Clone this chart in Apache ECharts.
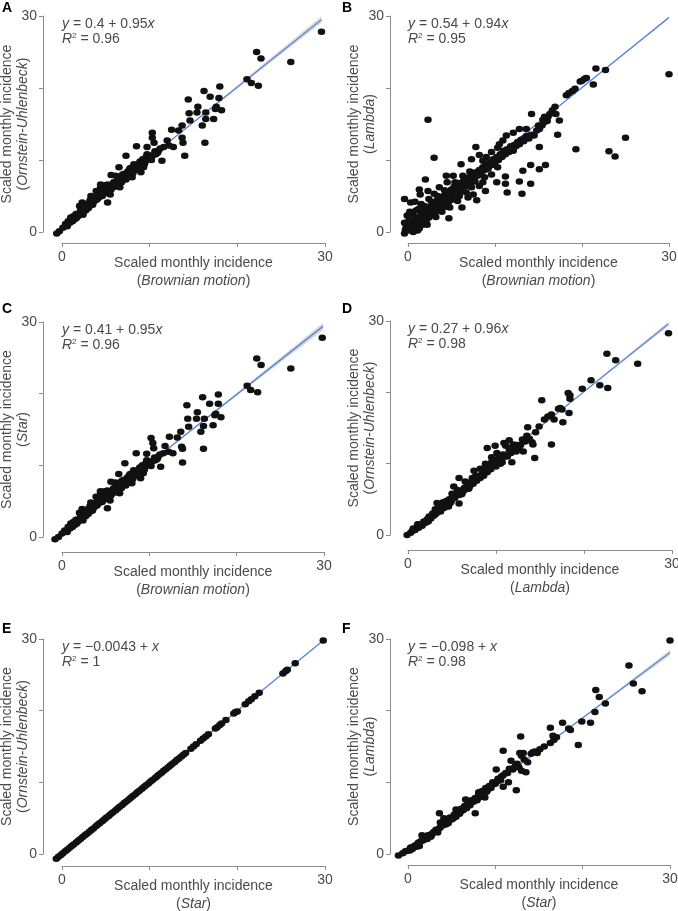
<!DOCTYPE html>
<html>
<head>
<meta charset="utf-8">
<script src="https://cdn.jsdelivr.net/npm/echarts@6/dist/echarts.min.js"></script>
<style>
  html, body { margin: 0; padding: 0; background: #fff; }
  #chart { width: 678px; height: 911px; }
</style>
</head>
<body>
<div id="chart"></div>
<script>
const tickValues = [0, 10, 20, 30];
const labeledTicks = [0, 30];
const panelLetters = ['A', 'B', 'C', 'D', 'E', 'F'];
const xModels = ['Brownian motion', 'Brownian motion', 'Brownian motion', 'Lambda', 'Star', 'Star'];
const yModels = ['Ornstein-Uhlenbeck', 'Lambda', 'Star', 'Ornstein-Uhlenbeck', 'Ornstein-Uhlenbeck', 'Lambda'];
const intercepts = ['0.4', '0.54', '0.41', '0.27', '\u22120.0043', '\u22120.098'];
const slopes = ['0.95', '0.94', '0.95', '0.96', '', ''];
const rSquared = ['0.96', '0.95', '0.96', '0.98', '1', '0.98'];

const pointsA = [
  [-0.6,-0.2],[-0.3,0.1],[0.1,0.6],[0.4,1.1],[0.6,0.8],[0.7,1.5],[0.9,1.3],[1.0,2.0],[1.2,1.5],[1.3,2.2],[1.5,1.8],[1.6,2.5],[1.8,2.2],[1.9,2.4],[2.0,3.6],[2.1,2.9],[2.2,2.7],[2.3,4.1],[2.4,2.4],[2.5,3.2],[2.6,3.5],[2.7,3.0],[2.9,3.9],[3.0,3.3],[3.1,3.6],[3.2,4.4],[3.3,5.0],[3.4,4.0],[3.5,3.8],[3.6,4.7],[3.7,4.3],[3.9,5.7],[4.0,4.5],[4.1,5.3],[4.2,4.8],[4.3,5.2],[4.4,6.6],[4.4,6.2],[4.6,5.0],[4.7,5.9],[4.8,5.5],[4.9,6.5],[5.0,6.0],[5.0,5.4],[5.2,6.6],[5.2,4.1],[5.3,6.0],[5.4,6.3],[5.5,5.2],[5.6,5.9],[5.6,7.9],[5.7,6.5],[5.9,6.9],[6.0,6.3],[6.1,7.8],[6.2,6.6],[6.3,7.0],[6.5,9.0],[6.5,7.2],[6.6,6.2],[6.7,7.4],[6.8,6.9],[6.9,8.0],[7.0,7.5],[7.1,8.1],[7.3,7.3],[7.3,10.6],[7.5,8.4],[7.6,8.0],[7.7,8.7],[7.9,8.3],[8.0,7.6],[8.0,8.8],[8.2,9.4],[8.3,8.6],[8.5,11.9],[8.5,9.3],[8.6,9.0],[8.8,9.5],[8.9,9.8],[9.0,8.3],[9.2,10.1],[9.3,9.0],[9.4,9.4],[9.6,10.4],[9.7,11.8],[9.7,10.8],[9.9,10.2],[10.0,10.5],[10.2,10.0],[10.3,13.8],[10.3,13.1],[10.4,10.7],[10.5,12.4],[10.6,11.2],[10.9,11.0],[11.0,11.3],[11.4,9.9],[11.6,11.8],[12.0,12.7],[12.2,12.0],[12.5,14.2],[12.7,11.8],[13.3,14.1],[13.7,14.8],[13.7,13.1],[13.8,12.4],[14.0,10.6],[14.4,18.4],[14.5,16.5],[14.6,15.5],[15.4,16.6],[15.5,17.4],[16.0,14.8],[16.2,19.6],[16.3,12.4],[16.4,16.6],[16.4,15.7],[16.9,18.8],[17.3,15.7],[17.5,17.1],[17.6,17.4],[17.9,18.6],[18.0,20.2],[18.2,16.9],[21.1,21.2],[21.6,20.7],[22.2,25.0],[22.4,20.3],[22.7,24.1],[26.1,23.6],[29.6,27.8],
  [1.1,1.7],[1.4,2.0],[1.7,2.0],[2.0,2.5],[2.3,2.9],[2.8,3.4],[3.0,4.0],[3.3,3.7],[3.6,4.2],[3.8,4.6],[4.0,5.0],[4.5,5.4],[4.6,5.6],[5.1,5.7],[5.3,5.5],[5.8,6.2],[6.0,6.8],[6.4,6.8],[6.6,7.7],[7.2,7.8],[7.4,7.7],[7.8,8.9],[8.1,8.2],[8.4,9.0],[8.7,9.2],[9.1,9.6],[9.5,9.8],[9.8,10.6],[10.1,10.4],[10.7,10.8],[11.2,11.6]
];
const pointsB = [
  [-0.4,-0.2],[-0.3,0.3],[-0.2,0.8],[-0.4,1.3],[0.0,0.2],[0.2,0.6],[0.3,1.1],[0.1,1.6],[0.5,0.4],[0.6,1.0],[0.8,1.5],[1.0,0.6],[1.0,2.0],[1.2,1.2],[1.4,1.8],[1.5,2.5],[1.7,1.0],[1.8,2.2],[2.0,2.8],[2.1,1.6],[2.3,3.0],[2.5,2.3],[2.6,3.5],[2.8,2.8],[2.9,2.5],[3.0,3.9],[3.1,3.2],[3.3,4.3],[3.5,3.6],[3.6,4.8],[3.8,3.1],[4.0,4.2],[4.1,5.0],[4.3,4.6],[4.5,5.5],[4.6,3.9],[4.8,5.2],[5.0,5.9],[5.1,4.8],[5.3,6.3],[5.5,5.5],[5.7,6.0],[5.8,6.8],[6.0,5.6],[6.2,6.6],[6.4,7.2],[6.6,6.3],[6.8,7.0],[7.0,7.6],[7.2,6.9],[7.4,7.9],[7.6,7.4],[7.8,8.3],[8.0,7.8],[8.2,8.6],[8.4,8.2],[8.6,9.0],[8.8,8.6],[9.0,9.4],[9.2,8.8],[9.4,9.7],[9.6,9.3],[9.8,10.1],[10.0,9.7],[10.2,10.4],[10.4,10.0],[10.6,10.8],[10.8,10.4],[11.0,11.2],[11.2,10.8],[11.4,11.5],[11.6,11.1],[11.8,11.9],[12.0,11.6],[12.2,12.1],[12.4,11.9],[12.6,12.5],[12.8,12.2],[13.0,12.8],[13.3,12.6],[13.6,13.3],[13.9,13.0],[14.2,13.5],[14.5,13.4],[14.8,14.1],[15.1,14.4],[15.4,14.8],[15.6,15.2],[15.9,15.6],[16.1,16.0],[16.3,16.4],[16.0,15.4],[15.7,16.0],[14.2,16.4],[16.6,16.9],[16.9,17.4],[17.0,16.4],[17.4,15.5],[17.2,13.5],[18.2,19.0],[18.5,19.3],[18.9,19.6],[19.2,19.9],[19.8,20.9],[20.0,21.0],[20.3,21.3],[20.5,21.4],[21.3,20.5],[21.6,22.7],[22.7,22.5],[30.0,21.9],[25.0,13.1],[23.1,11.2],[23.8,10.5],[19.3,11.5],[15.1,11.8],[15.1,14.3],[14.1,9.3],[15.8,9.3],[15.1,8.7],[13.2,8.5],[12.8,7.0],[14.1,6.7],[13.1,5.3],[10.3,9.0],[11.2,7.7],[10.2,6.9],[11.2,6.7],[11.4,5.5],[8.9,5.7],[7.9,4.4],[6.2,3.4],[4.7,1.9],[4.5,6.9],[4.4,7.8],[8.8,7.6],[7.3,6.2],[2.3,15.6],[3.0,10.3],[2.0,7.3],[7.8,11.8],[12.1,11.3],[11.0,11.3],[2.3,5.7],[1.4,5.2],[-0.4,4.6],[0.3,4.1],[1.3,5.9],[6.1,9.4],[7.3,10.1],[8.2,10.7],[9.0,10.4],[9.6,11.1],[10.5,12.2],[10.9,12.7],[11.3,13.4],[12.1,13.8],[12.8,14.3],[13.6,14.3],[10.3,11.7],[8.6,9.9],[5.2,7.8],[3.6,6.2],[5.6,6.2],[4.6,5.5],[1.5,3.9],[7.5,5.2],[5.7,4.3],[4.8,3.4],[2.9,2.5],[6.9,4.8],[8.2,6.4],[9.6,8.0],[8.6,6.9],[0.5,2.6],[0.9,3.0],[1.9,3.6],[2.7,4.2],[3.4,5.0],[4.2,5.8],[5.4,6.9],[6.3,7.8],[7.1,8.4],[6.7,5.5],[5.9,5.0],[3.9,2.8],[3.2,2.1],[2.2,1.0],[1.1,0.2],
  [0.0,0.9],[0.4,1.6],[0.7,2.1],[-0.1,2.3],[0.2,2.8],[0.6,0.0],[0.9,0.8],[1.3,0.5],[1.6,1.5],[1.9,1.9],[2.4,2.0],[2.7,3.2],[3.2,2.8],[3.4,4.0],[3.9,3.6],[4.2,4.4],[4.4,3.5],[1.2,3.2],[1.7,3.0],[2.4,4.6],[3.0,5.3],[0.8,4.2],[4.9,4.4],[5.6,5.2],[6.1,6.2],[6.9,7.3],[7.7,7.0],[8.5,8.6],[9.3,9.1],[10.1,10.0],[10.9,10.7],[11.7,11.5],[12.5,12.2],[13.4,13.0],[14.0,13.4],[15.0,14.8],[15.5,15.6]
];
const pointsC = [
  [-0.8,-0.3],[-0.4,0.0],[0.0,0.5],[0.3,0.9],[0.6,0.7],[0.7,1.4],[0.9,1.2],[1.0,1.9],[1.2,1.4],[1.3,2.1],[1.5,1.7],[1.6,2.4],[1.8,2.1],[1.9,2.3],[2.0,3.4],[2.1,2.8],[2.2,2.6],[2.3,3.9],[2.4,2.3],[2.5,3.1],[2.6,3.4],[2.7,2.9],[2.9,3.8],[3.0,3.2],[3.1,3.5],[3.2,4.3],[3.3,4.8],[3.4,3.9],[3.5,3.7],[3.6,4.6],[3.7,4.2],[3.9,5.6],[4.0,4.4],[4.1,5.2],[4.2,4.7],[4.3,5.1],[4.4,6.4],[4.4,6.0],[4.6,4.9],[4.7,5.8],[4.8,5.4],[4.9,6.4],[5.0,5.9],[5.0,5.3],[5.2,6.5],[5.2,4.0],[5.3,5.9],[5.4,6.2],[5.5,5.1],[5.6,5.8],[5.6,7.7],[5.7,6.4],[5.9,6.8],[6.0,6.2],[6.1,7.6],[6.2,6.5],[6.3,6.9],[6.5,8.8],[6.5,7.1],[6.6,6.1],[6.7,7.3],[6.8,6.8],[6.9,7.9],[7.0,7.4],[7.1,8.0],[7.3,7.2],[7.2,10.3],[7.5,8.3],[7.6,7.9],[7.7,8.6],[7.9,8.2],[8.0,7.5],[8.0,8.7],[8.2,9.3],[8.3,8.5],[8.5,11.7],[8.5,9.2],[8.6,8.9],[8.8,9.4],[8.9,9.7],[9.0,8.2],[9.2,10.0],[9.3,8.9],[9.4,9.3],[9.6,10.3],[9.7,11.6],[9.7,10.7],[9.9,10.1],[10.0,10.4],[10.2,9.9],[10.2,13.8],[10.4,13.1],[10.4,10.6],[10.5,12.4],[10.6,11.1],[10.9,10.9],[11.0,11.2],[11.3,9.8],[11.6,11.7],[11.8,12.7],[12.2,11.9],[12.3,14.0],[12.7,11.7],[13.2,13.9],[13.6,14.7],[13.7,12.6],[13.8,12.3],[13.8,10.4],[14.3,18.4],[14.4,16.5],[14.5,15.4],[15.4,16.5],[15.5,17.4],[15.9,14.7],[16.1,19.5],[16.2,12.3],[16.3,16.5],[16.2,15.5],[16.9,18.6],[17.3,15.6],[17.5,17.0],[17.6,17.2],[17.9,18.6],[17.9,19.9],[18.2,16.7],[21.2,21.1],[21.6,20.5],[22.3,24.9],[22.4,20.2],[22.8,24.0],[26.2,23.5],[29.8,27.8],
  [1.1,1.6],[1.4,1.9],[1.7,1.9],[2.0,2.4],[2.3,2.8],[2.8,3.3],[3.0,3.9],[3.3,3.6],[3.6,4.1],[3.8,4.5],[4.0,4.9],[4.5,5.3],[4.6,5.5],[5.1,5.6],[5.3,5.4],[5.8,6.1],[6.0,6.7],[6.4,6.7],[6.6,7.6],[7.2,7.7],[7.4,7.6],[7.8,8.8],[8.1,8.1],[8.4,8.9],[8.7,9.1],[9.1,9.5],[9.5,9.7],[9.8,10.5],[10.1,10.3],[10.7,10.7],[11.2,11.5]
];
const pointsD = [
  [-0.1,0.0],[0.3,0.3],[0.5,0.6],[0.8,0.7],[1.0,1.1],[1.1,1.5],[1.2,1.0],[1.4,1.5],[1.6,1.3],[1.8,1.9],[2.0,1.7],[2.2,2.2],[2.3,1.9],[2.4,2.6],[2.6,2.3],[2.8,3.0],[3.0,2.8],[3.1,3.6],[3.3,3.3],[3.3,4.5],[3.5,3.6],[3.7,3.3],[3.9,4.1],[4.0,4.6],[4.1,3.8],[4.3,4.5],[4.5,4.3],[4.6,4.0],[4.7,5.0],[4.9,4.7],[5.1,5.4],[5.2,6.8],[5.3,5.2],[5.5,5.8],[5.6,6.3],[5.8,8.0],[5.8,4.4],[5.8,5.6],[6.0,6.2],[6.1,5.7],[6.2,6.0],[6.4,6.6],[6.6,6.4],[6.8,7.1],[6.9,6.5],[7.0,6.8],[7.2,7.4],[7.4,7.2],[7.5,9.0],[7.6,7.8],[7.7,8.3],[7.8,7.6],[8.0,8.2],[8.2,8.0],[8.2,9.3],[8.4,8.6],[8.6,8.3],[8.7,9.4],[8.8,9.0],[9.0,8.8],[9.2,9.5],[9.4,9.2],[9.5,10.9],[9.5,10.2],[9.0,12.2],[9.7,9.9],[9.9,10.6],[9.9,12.5],[10.0,9.6],[10.1,11.5],[10.3,10.3],[10.5,10.0],[10.7,10.2],[10.8,11.3],[10.9,12.9],[11.1,12.5],[11.3,11.0],[11.5,13.3],[11.7,11.5],[11.8,10.2],[11.9,12.4],[12.0,12.7],[12.1,11.9],[12.3,11.7],[12.6,12.2],[13.0,13.4],[13.1,11.7],[13.5,13.9],[13.6,15.1],[14.1,13.0],[14.2,12.7],[14.4,10.8],[14.5,14.4],[14.9,15.2],[15.2,18.9],[15.5,16.2],[15.9,16.6],[16.3,16.9],[16.3,12.7],[16.6,16.2],[17.1,17.7],[17.3,17.8],[17.5,17.6],[17.6,15.8],[18.2,19.9],[18.3,17.1],[18.4,19.1],[18.4,19.6],[19.8,20.5],[20.8,21.7],[21.8,21.0],[22.7,20.6],[22.6,25.4],[23.6,24.5],[26.1,24.0],[29.6,28.3],
  [0.6,0.9],[1.3,1.2],[1.7,1.6],[2.1,2.0],[2.5,2.4],[2.9,2.7],[3.2,3.0],[3.6,3.9],[4.2,4.2],[4.4,4.8],[4.8,4.5],[5.0,5.1],[5.4,5.5],[5.7,5.9],[6.3,6.3],[6.7,6.9],[7.1,7.1],[7.3,7.6],[7.9,7.9],[8.3,8.3],[8.9,9.2],[9.3,9.8],[10.2,10.5],[10.6,10.6],[11.0,11.0],[11.5,11.8],[12.4,12.6],[12.8,12.6],[13.3,13.1],[13.8,13.5],[6.5,7.5],[7.3,8.0],[5.0,5.8],[8.8,10.0],[10.4,11.2]
];
const pointsE = [
  [-0.65,-0.65],[-0.4,-0.38],[-0.12,-0.13],[0.1,0.1],[0.38,0.37],[0.6,0.6],[0.87,0.86],[1.1,1.11],[1.33,1.33],[1.62,1.6],[1.85,1.86],[2.1,2.09],[2.36,2.36],[2.6,2.61],[2.84,2.83],[3.12,3.12],[3.35,3.36],[3.58,3.57],[3.86,3.86],[4.1,4.1],[4.33,4.34],[4.62,4.6],[4.85,4.86],[5.08,5.08],[5.36,5.35],[5.6,5.61],[5.83,5.83],[6.12,6.11],[6.35,6.36],[6.58,6.58],[6.86,6.85],[7.1,7.11],[7.33,7.33],[7.62,7.6],[7.85,7.86],[8.08,8.08],[8.36,8.35],[8.6,8.61],[8.83,8.83],[9.12,9.11],[9.35,9.36],[9.58,9.58],[9.86,9.85],[10.1,10.11],[10.33,10.33],[10.62,10.6],[10.85,10.86],[11.08,11.08],[11.36,11.35],[11.6,11.61],[11.83,11.83],[12.12,12.11],[12.35,12.36],[12.58,12.58],[12.86,12.85],[13.1,13.11],[13.33,13.33],[13.62,13.6],[13.85,13.86],[14.1,14.1],
  [14.7,14.7],[15.0,15.0],[15.3,15.3],[15.8,15.8],[16.1,16.1],[16.4,16.4],[16.7,16.7],[17.5,17.5],[17.7,17.7],[18.0,18.0],[18.2,18.2],[18.7,18.7],[19.6,19.6],[19.8,19.8],[20.0,19.9],[20.9,20.9],[21.3,21.3],[21.6,21.6],[22.0,22.0],[22.5,22.5],[25.2,25.2],[25.5,25.5],[25.7,25.7],[26.6,26.6],[29.8,29.8]
];
const pointsF = [
  [-1.1,-0.2],[-0.6,0.1],[-0.3,0.4],[0.0,0.5],[0.3,0.9],[0.5,0.7],[0.8,1.2],[1.1,1.4],[1.3,1.1],[1.6,2.6],[1.5,1.8],[1.8,2.0],[2.0,2.4],[2.2,2.1],[2.5,2.7],[2.7,2.6],[3.0,3.1],[3.2,3.4],[3.4,3.0],[3.6,5.7],[3.7,4.4],[3.7,3.7],[4.0,4.0],[4.2,4.3],[4.4,4.8],[4.6,4.3],[4.8,5.1],[5.0,4.8],[5.3,5.5],[5.5,5.2],[5.7,6.0],[5.9,5.6],[6.1,6.3],[6.3,6.1],[6.5,6.7],[6.7,6.4],[6.9,7.1],[6.9,7.4],[7.1,6.8],[7.3,7.5],[7.5,7.3],[7.7,5.7],[7.7,7.8],[7.9,7.5],[7.9,7.6],[8.1,8.4],[8.1,8.6],[8.3,8.0],[8.5,8.8],[8.7,8.5],[8.8,7.9],[8.9,9.2],[9.0,8.7],[9.1,8.9],[9.3,9.5],[9.5,9.2],[9.7,10.0],[10.0,9.8],[10.1,11.8],[10.3,10.5],[10.6,10.3],[10.9,14.4],[10.9,9.4],[10.9,11.0],[11.2,11.3],[11.5,10.0],[11.6,11.9],[11.8,13.0],[12.0,11.8],[12.3,12.3],[12.4,8.9],[12.7,12.1],[12.8,14.1],[12.9,16.4],[13.0,13.7],[13.0,11.6],[13.2,14.1],[13.5,11.4],[13.7,12.8],[14.1,14.0],[14.5,14.3],[14.8,14.1],[15.1,14.6],[15.6,15.0],[16.3,15.5],[16.3,17.6],[16.6,16.5],[16.7,15.9],[17.0,16.3],[17.7,18.3],[18.4,17.5],[18.6,17.3],[19.5,15.2],[19.9,18.5],[20.9,18.3],[21.4,19.8],[21.5,22.9],[21.9,21.9],[22.6,21.0],[25.3,26.3],[25.8,23.8],[26.8,22.7],[30.0,29.8],
  [0.2,0.5],[0.6,1.0],[1.0,1.0],[1.2,1.6],[1.7,1.9],[2.1,2.2],[2.3,2.6],[2.6,2.4],[2.9,3.0],[3.3,3.2],[3.5,3.5],[3.9,4.2],[4.3,4.1],[4.5,4.6],[4.9,5.0],[5.2,5.0],[5.6,5.7],[6.0,5.9],[6.4,6.5],[6.8,6.7],[7.2,7.3],[7.6,7.6],[8.0,8.0],[8.4,8.5],[8.8,8.9],[9.2,9.2],[9.6,9.6],[10.2,10.1],[10.7,10.8],[11.4,11.3],[12.1,12.0],[12.5,12.6],[13.3,13.2],[14.3,14.2],[4.1,5.0],[5.5,6.2],[6.6,7.6]
];

// fitted line end points
const fitA = [[-0.5, 0.1], [29.6, 29.5]];
const fitB = [[-0.4, 0.2], [30.0, 29.8]];
const fitC = [[-0.6, 0.1], [29.9, 29.4]];
const fitD = [[-0.1, 0.2], [29.6, 29.6]];
const fitE = [[-0.65, -0.65], [29.8, 29.8]];
const fitF = [[-1.1, -0.2], [30.0, 28.1]];

// confidence band: [x, lower, upper]
const bandA = [[-0.5,-0.1,0.3],[7,7.38,7.48],[15,15.15,15.35],[22,21.85,22.35],[29.6,29.05,29.95]];
const bandB = [[-0.4,0.1,0.3],[7,7.35,7.45],[15,15.15,15.25],[22,21.9,22.1],[30,29.65,29.95]];
const bandC = [[-0.6,-0.1,0.3],[7,7.35,7.45],[15,15.0,15.2],[22,21.55,22.05],[29.9,28.9,29.9]];
const bandD = [[-0.1,0.05,0.35],[7,7.19,7.27],[15,15.08,15.22],[22,21.95,22.25],[29.6,29.3,29.9]];
const bandE = [[-0.65,-0.67,-0.63],[29.8,29.78,29.82]];
const bandF = [[-1.1,-0.4,0.0],[7,7.12,7.22],[15,14.35,14.55],[22,20.65,20.95],[30,27.75,28.45]];

const points = [pointsA, pointsB, pointsC, pointsD, pointsE, pointsF];
const fits = [fitA, fitB, fitC, fitD, fitE, fitF];
const bands = [bandA, bandB, bandC, bandD, bandE, bandF];

const layout = [
  { left: 62,  top: 16,  width: 263, height: 216, xOff: 11, yOff: 19, lx: 2,   ly: 1 },
  { left: 408, top: 16,  width: 261, height: 216, xOff: 11, yOff: 18, lx: 342, ly: 1 },
  { left: 62,  top: 322, width: 262, height: 215, xOff: 15, yOff: 19, lx: 2,   ly: 302 },
  { left: 408, top: 321, width: 264, height: 214, xOff: 15, yOff: 18, lx: 342, ly: 302 },
  { left: 62,  top: 639, width: 263, height: 215, xOff: 12, yOff: 19, lx: 2,   ly: 622 },
  { left: 408, top: 639, width: 262, height: 215, xOff: 11, yOff: 18, lx: 342, ly: 622 }
];

const FONT = '"Liberation Sans", Arial, Helvetica, sans-serif';
const TEXT = '#4a4a4a';
const AXIS = '#8c8c8c';

const richFor = lh => ({
  a: { fontSize: 14, lineHeight: lh, color: TEXT, fontFamily: FONT },
  p: { fontSize: 14, lineHeight: lh, color: TEXT, fontFamily: FONT },
  i: { fontSize: 14, lineHeight: lh, color: TEXT, fontFamily: FONT, fontStyle: 'italic' }
});

const axisName = model => '{a|Scaled monthly incidence}\n{p|(}{i|' + model + '}{p|)}';

const baseAxis = (i, off) => ({
  type: 'value',
  gridIndex: i,
  min: tickValues[0],
  max: tickValues[tickValues.length - 1],
  interval: tickValues[1] - tickValues[0],
  offset: off,
  axisLine: { show: true, onZero: false, lineStyle: { color: AXIS, width: 1 } },
  axisTick: { show: true, length: 4, lineStyle: { color: AXIS, width: 1 } },
  axisLabel: {
    color: TEXT, fontSize: 14, fontFamily: FONT,
    formatter: v => labeledTicks.includes(v) ? String(v) : ''
  },
  splitLine: { show: false },
  nameLocation: 'middle',
  nameMoveOverlap: false
});

const grids = [], xAxes = [], yAxes = [], series = [], graphics = [];

layout.forEach((g, i) => {
  grids.push({
    left: g.left, top: g.top, width: g.width, height: g.height,
    containLabel: false, outerBoundsMode: 'none'
  });

  const xa = baseAxis(i, g.xOff);
  xa.axisLabel.margin = 7;
  xa.name = axisName(xModels[i]);
  xa.nameGap = 11;
  xa.nameTextStyle = { rich: richFor(18), lineHeight: 18 };
  xAxes.push(xa);

  const ya = baseAxis(i, g.yOff);
  ya.axisLabel.margin = 6;
  ya.name = axisName(yModels[i]);
  ya.nameGap = 12;
  ya.nameTextStyle = { rich: richFor(16), lineHeight: 16 };
  yAxes.push(ya);

  const band = bands[i];
  series.push({
    type: 'custom',
    xAxisIndex: i, yAxisIndex: i,
    silent: true,
    data: [0],
    renderItem: (params, api) => {
      const upper = band.map(b => api.coord([b[0], b[2]]));
      const lower = band.slice().reverse().map(b => api.coord([b[0], b[1]]));
      return { type: 'polygon', shape: { points: upper.concat(lower) }, style: { fill: '#d6d6d6' } };
    },
    z: 1
  });

  series.push({
    type: 'line',
    xAxisIndex: i, yAxisIndex: i,
    data: fits[i],
    symbol: 'none',
    clip: false,
    silent: true,
    lineStyle: { color: '#4a7ee0', width: 1.2 },
    z: 2
  });

  series.push({
    type: 'scatter',
    xAxisIndex: i, yAxisIndex: i,
    data: points[i],
    symbol: 'circle',
    symbolSize: [7.5, 6.5],
    clip: false,
    itemStyle: { color: '#111111', opacity: 1 },
    z: 3
  });

  graphics.push({
    type: 'text', left: g.lx, top: g.ly,
    style: { text: panelLetters[i], fill: '#000', font: 'bold 14px ' + FONT }
  });

  const eq = slopes[i]
    ? '{i|y} = ' + intercepts[i] + ' + ' + slopes[i] + '{i|x}'
    : '{i|y} = ' + intercepts[i] + ' + {i|x}';
  graphics.push({
    type: 'text', left: g.left, top: g.top + 1,
    style: {
      text: eq + '\n{i|R}{s|2} = ' + rSquared[i],
      fill: TEXT,
      font: '14px ' + FONT,
      lineHeight: 15,
      rich: {
        i: { fontStyle: 'italic', fontSize: 14, lineHeight: 15, fontFamily: FONT, fill: TEXT },
        s: { fontSize: 8, lineHeight: 9, verticalAlign: 'top', fontFamily: FONT, fill: TEXT }
      }
    }
  });
});

const chart = echarts.init(document.getElementById('chart'));
chart.setOption({
  animation: false,
  backgroundColor: '#ffffff',
  grid: grids,
  xAxis: xAxes,
  yAxis: yAxes,
  series: series,
  graphic: graphics
});
</script>
</body>
</html>
